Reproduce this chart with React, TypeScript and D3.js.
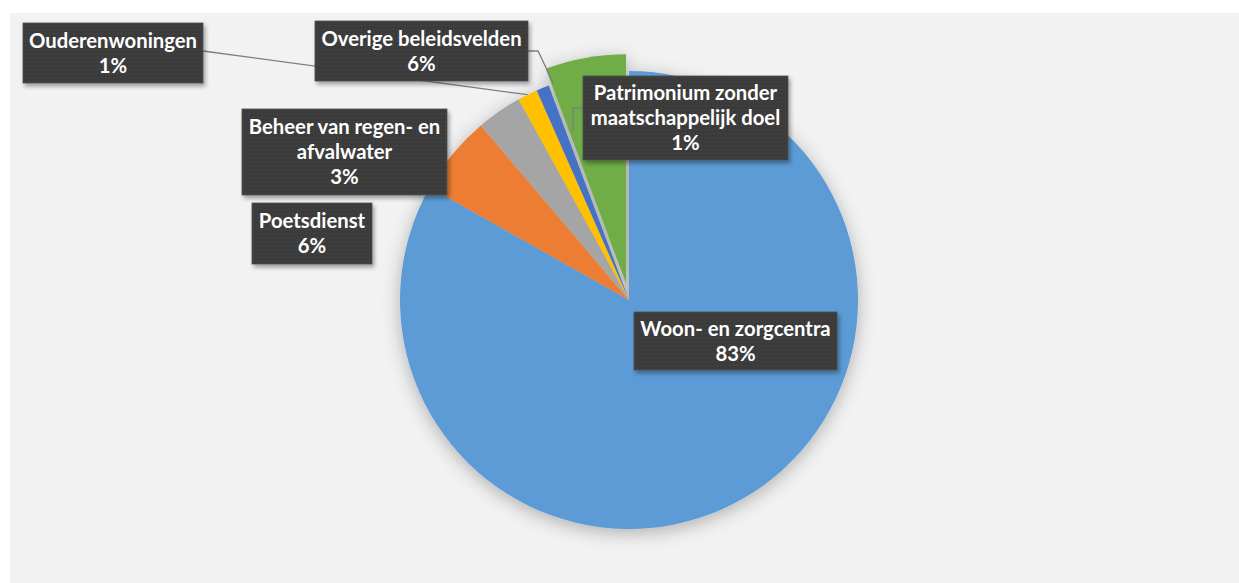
import React from "react";
import * as d3 from "d3";

const categories = [
  "Woon- en zorgcentra",
  "Poetsdienst",
  "Beheer van regen- en afvalwater",
  "Ouderenwoningen",
  "Patrimonium zonder maatschappelijk doel",
  "Overige beleidsvelden",
];
const values = [83.2, 5.6, 3.2, 1.4, 0.9, 5.7];
const colors = ["#5B9BD5", "#ED7D31", "#A5A5A5", "#FFC000", "#4472C4", "#70AD47"];
const labelLines = [
  ["Woon- en zorgcentra"],
  ["Poetsdienst"],
  ["Beheer van regen- en", "afvalwater"],
  ["Ouderenwoningen"],
  ["Patrimonium zonder", "maatschappelijk doel"],
  ["Overige beleidsvelden"],
];

const W = 1239;
const H = 583;
const cx = 629;
const cy = 300;
const R = 229;
const explode = [0, 0, 0, 0, 0, 17];

const boxes = [
  { x: 634, y: 312, w: 203, h: 58 },
  { x: 252, y: 203, w: 120, h: 61 },
  { x: 242, y: 109, w: 205, h: 86 },
  { x: 23, y: 23, w: 180, h: 60 },
  { x: 583, y: 76, w: 205, h: 84 },
  { x: 315, y: 21, w: 213, h: 60 },
];

export default function App() {
  const pie = d3
    .pie<number>()
    .sort(null)
    .value((d) => d)
    .startAngle(0)
    .endAngle(2 * Math.PI);
  const arcs = pie(values);
  const arcGen = d3.arc<d3.PieArcDatum<number>>().innerRadius(0).outerRadius(R);

  const offset = (i: number) => {
    const a = arcs[i];
    const m = (a.startAngle + a.endAngle) / 2;
    return [Math.sin(m) * explode[i], -Math.cos(m) * explode[i]];
  };
  const polar = (i: number, ang: number, r: number) => {
    const [ox, oy] = offset(i);
    return [cx + ox + Math.sin(ang) * r, cy + oy - Math.cos(ang) * r];
  };

  const a3 = arcs[3];
  const p3 = polar(3, (a3.startAngle + a3.endAngle) / 2, R);
  const a5 = arcs[5];
  const p5 = polar(5, a5.startAngle + 0.01, R * 0.93);
  const b3 = boxes[3];
  const b4 = boxes[4];
  const b5 = boxes[5];
  const leaders = [
    `M${b3.x + b3.w},${b3.y + 28}L${p3[0]},${p3[1]}`,
    `M${b5.x + b5.w},${b5.y + 30}L${b5.x + b5.w + 10},${b5.y + 30}L${p5[0]},${p5[1]}`,
    `M${b4.x},${b4.y + 32}L${b4.x - 10},${b4.y + 32}L${b4.x - 10},${b4.y + 56}`,
  ];

  const font = "Lato, 'Open Sans', sans-serif";

  return (
    <svg
      width={W}
      height={H}
      style={{ position: "absolute", left: 0, top: 0, display: "block" }}
    >
      <defs>
        <pattern id="dots" width="4" height="4" patternUnits="userSpaceOnUse">
          <rect width="4" height="4" fill="#3b3b3b" />
          <rect x="1" y="1" width="1" height="1" fill="#4d4d4d" />
        </pattern>
        <filter id="pieShadow" x="-20%" y="-20%" width="140%" height="140%">
          <feDropShadow dx="0" dy="4" stdDeviation="9" floodColor="#000" floodOpacity="0.28" />
        </filter>
        <filter id="boxShadow" x="-10%" y="-10%" width="130%" height="140%">
          <feDropShadow dx="2" dy="3" stdDeviation="2" floodColor="#000" floodOpacity="0.35" />
        </filter>
      </defs>
      <rect x={0} y={0} width={W} height={H} fill="#ffffff" />
      <rect x={10} y={13} width={W - 10} height={H - 13} fill="#f2f2f2" />

      <g filter="url(#pieShadow)">
        {arcs.map((a, i) => {
          const [ox, oy] = offset(i);
          return (
            <path
              key={categories[i]}
              d={arcGen(a) || ""}
              transform={`translate(${cx + ox},${cy + oy})`}
              fill={colors[i]}
            />
          );
        })}
      </g>

      {leaders.map((d, i) => (
        <path key={i} d={d} fill="none" stroke="#7f7f7f" strokeWidth={1.3} />
      ))}

      {arcs.map((a, i) => {
        const b = boxes[i];
        const lines = [...labelLines[i], `${Math.round(values[i])}%`];
        const lh = 25;
        const top = b.y + b.h / 2 - ((lines.length - 1) * lh) / 2;
        return (
          <g key={"lab" + i}>
            <rect
              x={b.x}
              y={b.y}
              width={b.w}
              height={b.h}
              fill="url(#dots)"
              stroke="#505050"
              strokeWidth={0.8}
              filter="url(#boxShadow)"
            />
            {lines.map((t, j) => (
              <text
                key={j}
                x={b.x + b.w / 2}
                y={top + j * lh + 7}
                textAnchor="middle"
                fill="#ffffff"
                fontFamily={font}
                fontWeight="bold"
                fontSize={20.3}
              >
                {t}
              </text>
            ))}
          </g>
        );
      })}
    </svg>
  );
}
